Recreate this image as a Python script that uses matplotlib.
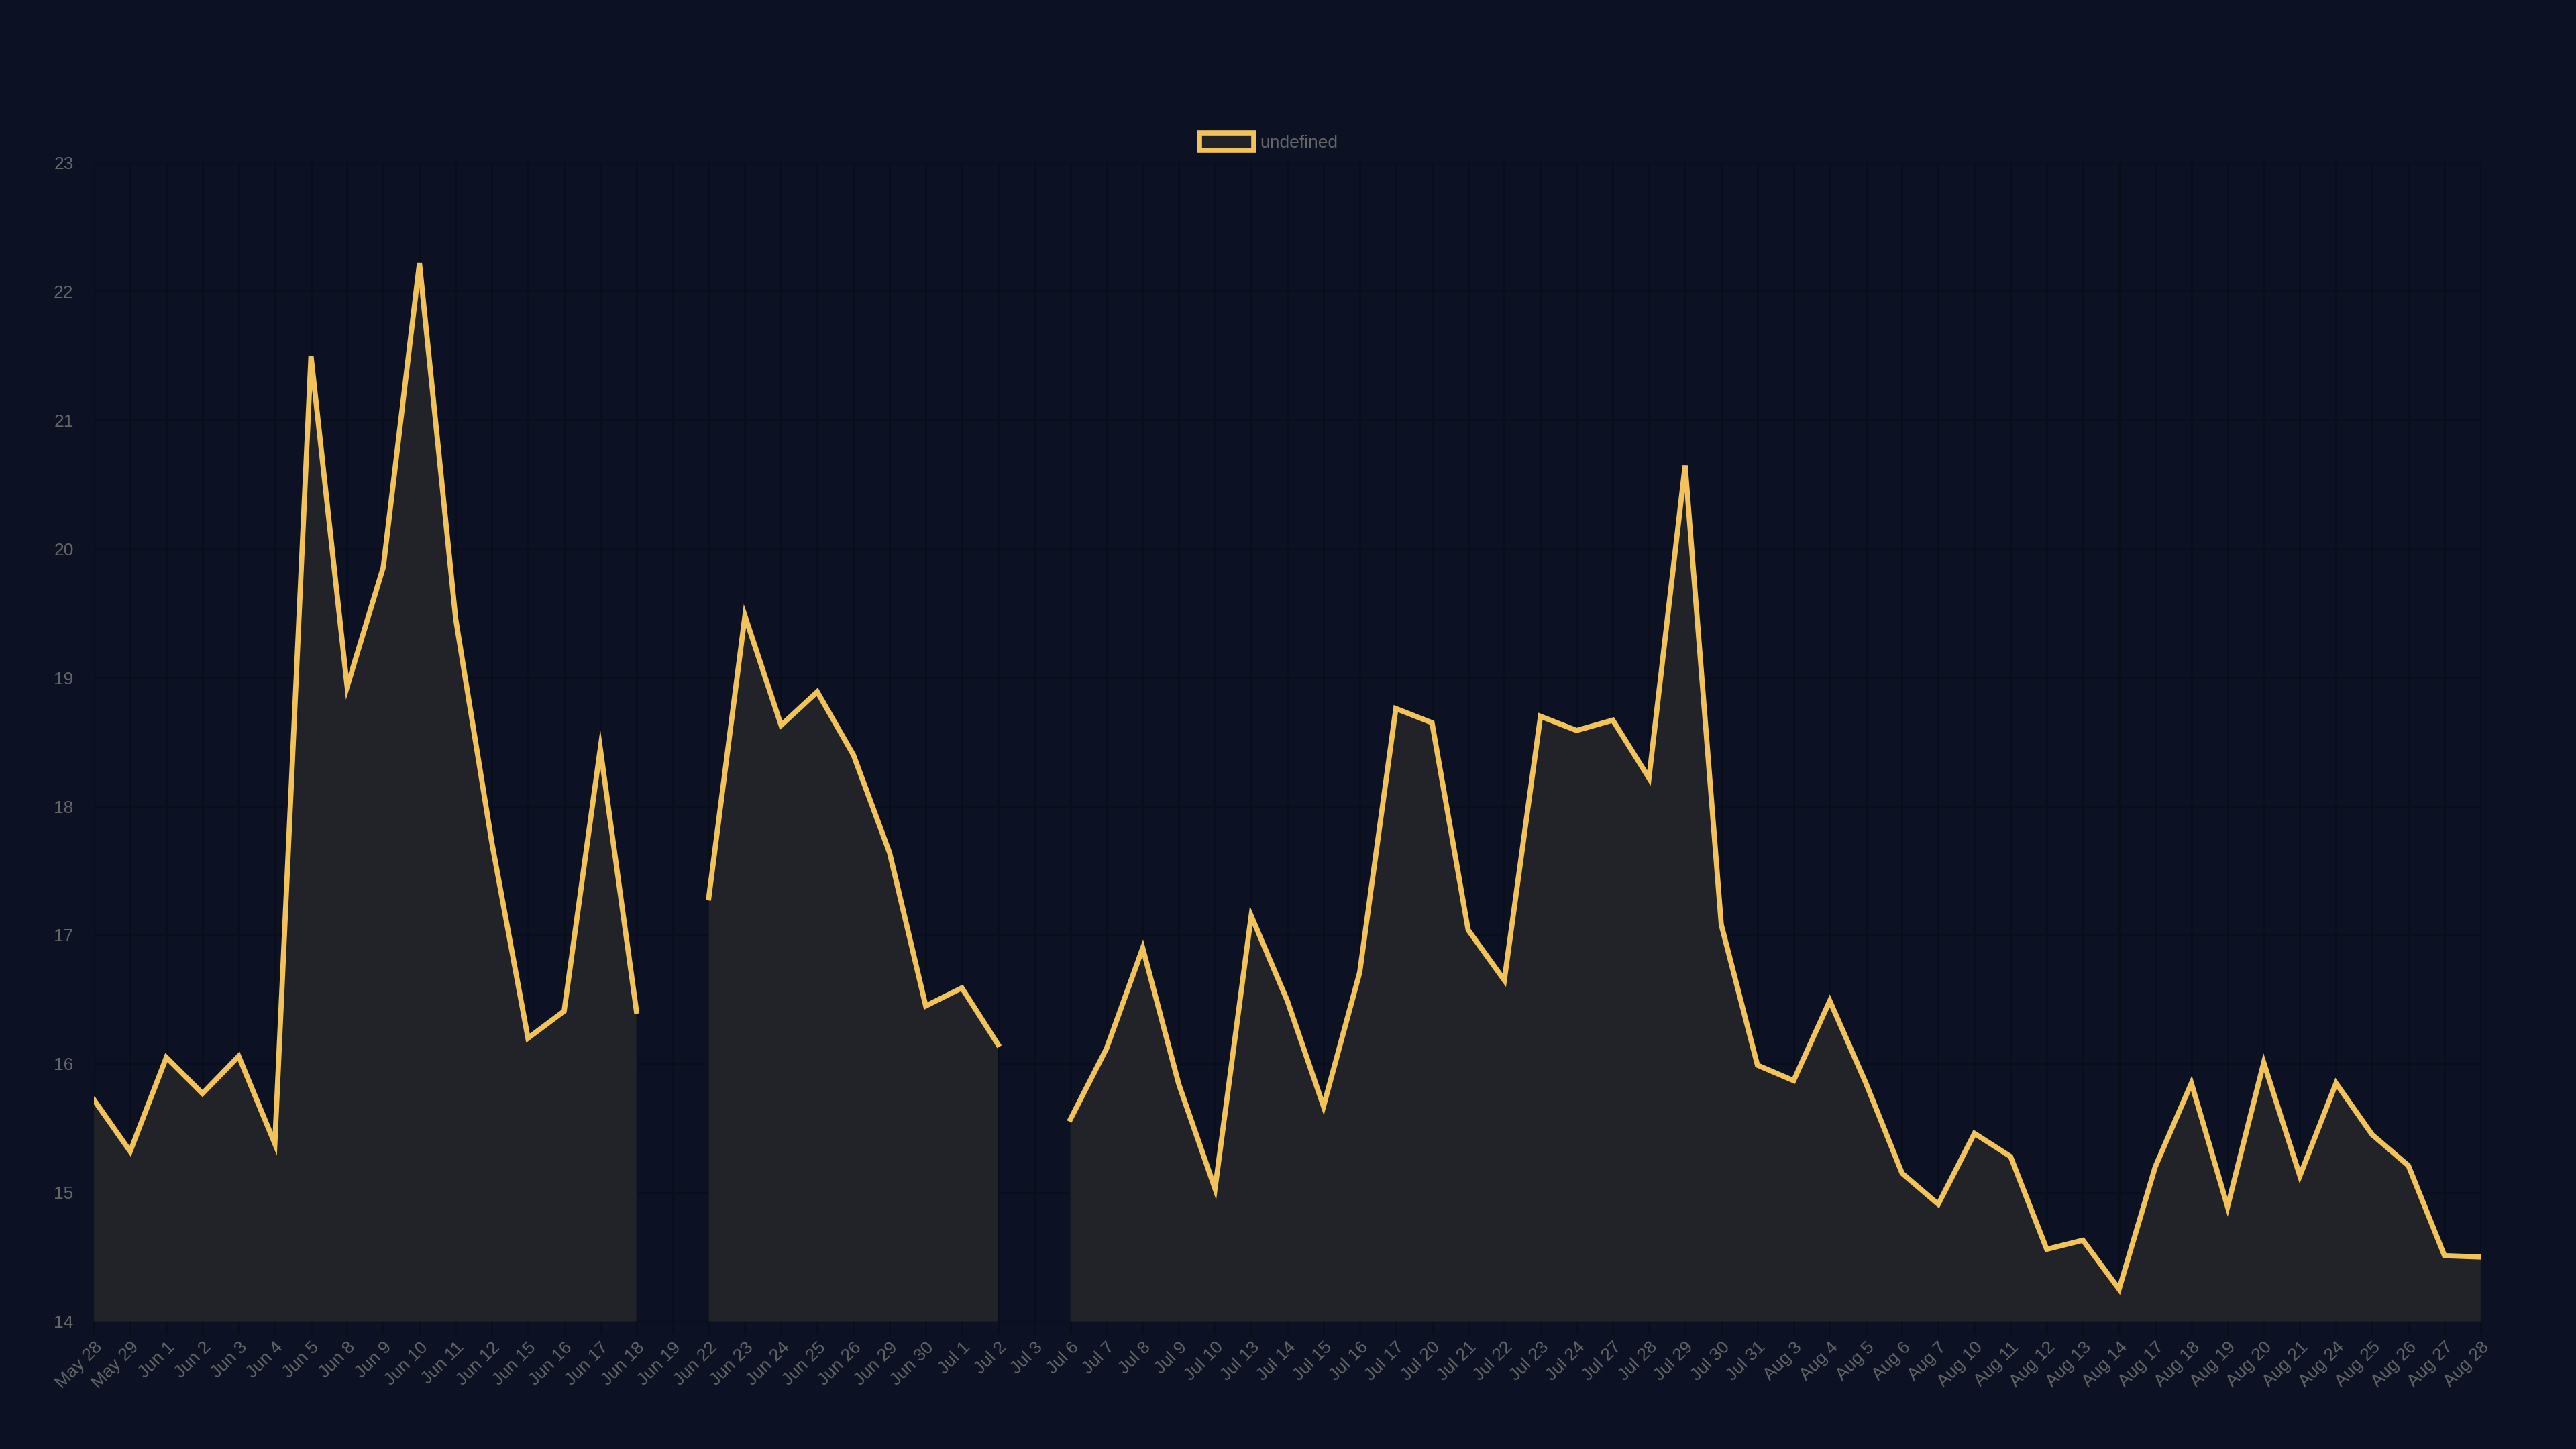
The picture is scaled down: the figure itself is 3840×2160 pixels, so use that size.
import numpy as np
import matplotlib
matplotlib.use("Agg")
import matplotlib.pyplot as plt
from matplotlib.patches import Patch

plt.rcParams["font.family"] = ["Liberation Sans", "DejaVu Sans"]

# Dates on the x axis (trading days)
dates = [
    "May 28", "May 29", "Jun 1", "Jun 2", "Jun 3", "Jun 4", "Jun 5",
    "Jun 8", "Jun 9", "Jun 10", "Jun 11", "Jun 12", "Jun 15", "Jun 16",
    "Jun 17", "Jun 18", "Jun 19", "Jun 22", "Jun 23", "Jun 24", "Jun 25",
    "Jun 26", "Jun 29", "Jun 30", "Jul 1", "Jul 2", "Jul 3", "Jul 6",
    "Jul 7", "Jul 8", "Jul 9", "Jul 10", "Jul 13", "Jul 14", "Jul 15",
    "Jul 16", "Jul 17", "Jul 20", "Jul 21", "Jul 22", "Jul 23", "Jul 24",
    "Jul 27", "Jul 28", "Jul 29", "Jul 30", "Jul 31", "Aug 3", "Aug 4",
    "Aug 5", "Aug 6", "Aug 7", "Aug 10", "Aug 11", "Aug 12", "Aug 13",
    "Aug 14", "Aug 17", "Aug 18", "Aug 19", "Aug 20", "Aug 21", "Aug 24",
    "Aug 25", "Aug 26", "Aug 27", "Aug 28",
]

# Values, None where the series has no point
values = [
    15.72, 15.32, 16.05, 15.77, 16.06, 15.38, 21.50,
    18.93, 19.86, 22.22, 19.46, 17.72, 16.20, 16.41,
    18.45, 16.41, None, 17.29, 19.48, 18.63, 18.89,
    18.40, 17.64, 16.45, 16.59, 16.15, None, 15.57,
    16.12, 16.90, 15.84, 15.03, 17.15, 16.49, 15.67,
    16.71, 18.76, 18.65, 17.04, 16.65, 18.70, 18.59,
    18.67, 18.22, 20.65, 17.08, 15.99, 15.87, 16.49,
    15.85, 15.15, 14.91, 15.46, 15.28, 14.56, 14.63,
    14.25, 15.20, 15.85, 14.89, 16.01, 15.13, 15.85,
    15.45, 15.21, 14.51, 14.50,
]

y_ticks = [14, 15, 16, 17, 18, 19, 20, 21, 22, 23]

bg = "#0c1224"
fill_col = "#212328"
line_col = "#f2c35b"
grid_col = "#090e1b"
text_col = "#666666"

x = np.arange(len(dates))
y = np.array([np.nan if v is None else v for v in values])

fig = plt.figure(figsize=(38.4, 21.6), dpi=100)
fig.patch.set_facecolor(bg)
ax = fig.add_axes([0.0365, 0.0881, 0.9265, 0.7996])
ax.set_facecolor(bg)

ax.fill_between(x, 14, y, color=fill_col, linewidth=0, zorder=2)
ax.plot(x, y, color=line_col, linewidth=5.6, solid_joinstyle="miter", zorder=3)

ax.set_xlim(0, len(dates) - 1)
ax.set_ylim(14, 23)
ax.set_xticks(x)
ax.set_xticklabels(dates, rotation=45, ha="right", rotation_mode="anchor")
ax.set_yticks(y_ticks)

ax.grid(True, color=grid_col, linewidth=2, zorder=1)
ax.tick_params(axis="x", colors=text_col, labelsize=19, length=13,
               width=2, pad=6, color=grid_col)
ax.tick_params(axis="y", colors=text_col, labelsize=19, length=0, pad=22)
for s in ax.spines.values():
    s.set_visible(False)

handle = Patch(facecolor=fill_col, edgecolor=line_col, linewidth=5.5)
leg = fig.legend([handle], ["undefined"], loc="center", bbox_to_anchor=(0.4925, 0.902),
                 frameon=False, fontsize=19, handlelength=3.1, handleheight=1.1,
                 handletextpad=0.35)
for t in leg.get_texts():
    t.set_color(text_col)

fig.savefig("out.png", dpi=100, facecolor=bg)
